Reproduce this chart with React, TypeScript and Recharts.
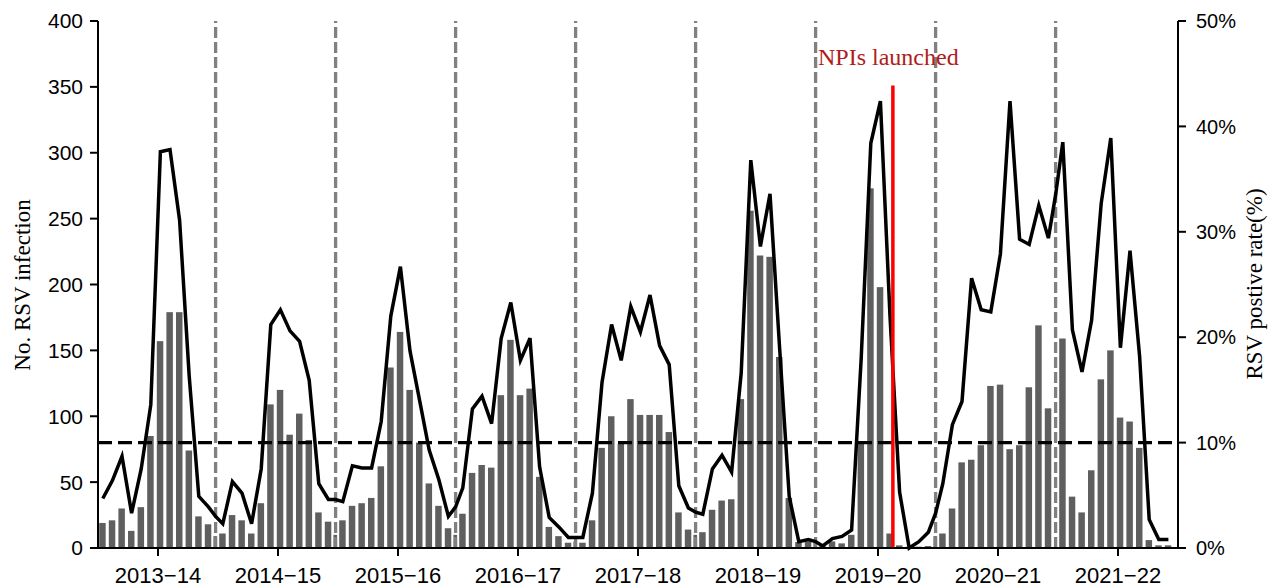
import {
  ComposedChart,
  Bar,
  Line,
  XAxis,
  YAxis,
  ReferenceLine,
} from "recharts";

// seasons run July..June; each season also carries one short "boundary" bar
const SEASONS = [
  "2013−14",
  "2014−15",
  "2015−16",
  "2016−17",
  "2017−18",
  "2018−19",
  "2019−20",
  "2020−21",
  "2021−22",
];

// No. RSV infection, 12 months per season
const MONTHLY_COUNTS = [
  19, 21, 30, 13, 31, 85, 157, 179, 179, 74, 24, 18,
  11, 25, 21, 11, 34, 109, 120, 86, 102, 82, 27, 20,
  21, 32, 34, 38, 62, 137, 164, 120, 80, 49, 32, 15,
  26, 57, 63, 61, 116, 158, 116, 121, 54, 16, 9, 4,
  4, 21, 76, 100, 79, 113, 101, 101, 101, 88, 27, 14,
  12, 29, 36, 37, 113, 256, 222, 221, 145, 38, 4.5, 5,
  2, 5, 3.5, 10, 80, 273, 198, 11, 2, 1, 1, 1.5,
  11, 30, 65, 67, 78, 123, 124, 75, 78, 122, 169, 106,
  159, 39, 27, 59, 128, 150, 99, 96, 76, 6, 2, 2,
];

// short bars sitting on the season boundaries
const BOUNDARY_COUNTS = [9, 10, 10, 5, 10, 5, 9, 0];

// RSV positive rate (%)
const MONTHLY_RATES = [
  4.7, 6.4, 8.7, 3.3, 7.5, 13.6, 37.6, 37.8, 31.1, 16.3, 4.9, 3.9,
  2.3, 6.3, 5.2, 2.3, 7.5, 21.2, 22.6, 20.6, 19.6, 15.9, 6.1, 4.6,
  4.4, 7.8, 7.6, 7.6, 12, 22, 26.7, 18.7, 14, 9.3, 6.5, 3.0,
  5.7, 13.2, 14.4, 11.8, 19.9, 23.3, 17.8, 19.9, 7.7, 2.9, 2.0, 1.0,
  1.0, 5.2, 15.7, 21.2, 17.8, 22.9, 20.5, 24, 19.2, 17.4, 5.9, 3.8,
  3.2, 7.5, 8.8, 7.2, 16.6, 36.8, 28.6, 33.6, 19, 4.9, 0.6, 0.8,
  0.2, 0.9, 1.1, 1.7, 18, 38.4, 42.4, 22, 5.3, 0, 0.6, 1.5,
  6.1, 11.7, 13.9, 25.6, 22.6, 22.4, 27.9, 42.4, 29.3, 28.8, 32.5, 29.4,
  38.5, 20.7, 16.7, 21.6, 32.7, 38.9, 19.0, 28.2, 18.2, 2.7, 0.8, 0.8,
];

const BOUNDARY_RATES = [3.0, 4.6, 3.9, 1.0, 3.4, 0.6, 3.3, 33.5];

const COUNT_TICKS = [0, 50, 100, 150, 200, 250, 300, 350, 400];
const RATE_TICKS = [0, 10, 20, 30, 40, 50];

const THRESHOLD = 80; // 10% positive rate on the left scale
const NPI_X = 82.8; // Feb 2020
const NPI_TOP = 351;

const SPAN = 12.5; // x units per season
const seasonTicks = SEASONS.map((_, i) => i * SPAN + 6.25);
const boundaries = BOUNDARY_COUNTS.map((_, i) => i * SPAN + 12.25);

type Row = { x: number; count: number; rate: number; narrow: boolean };

const data: Row[] = [];
SEASONS.forEach((_, s) => {
  for (let m = 0; m < 12; m++) {
    data.push({
      x: s * SPAN + m + 0.5,
      count: MONTHLY_COUNTS[s * 12 + m],
      rate: MONTHLY_RATES[s * 12 + m],
      narrow: false,
    });
  }
  if (s < BOUNDARY_COUNTS.length) {
    data.push({
      x: s * SPAN + 12.25,
      count: BOUNDARY_COUNTS[s],
      rate: BOUNDARY_RATES[s],
      narrow: true,
    });
  }
});

const sans = "'Liberation Sans', Arial, sans-serif";
const serif = "'Liberation Serif', 'Times New Roman', serif";

const BarShape = (props: any) => {
  const { x, y, width, height, payload } = props;
  if (!height || height <= 0) return null;
  const w = payload && payload.narrow ? 3.6 : width;
  return <rect x={x + (width - w) / 2} y={y} width={w} height={height} fill="#5f5f5f" />;
};

export default function App() {
  return (
    <div style={{ position: "absolute", left: 0, top: 0, width: 1272, height: 587, background: "#fff" }}>
      <ComposedChart
        width={1272}
        height={587}
        data={data}
        margin={{ top: 21, right: 0, bottom: 0, left: 0 }}
      >
        <XAxis
          dataKey="x"
          type="number"
          domain={[0, SEASONS.length * SPAN]}
          ticks={seasonTicks}
          tickFormatter={(v: number) => SEASONS[Math.round((v - 6.25) / SPAN)]}
          height={39}
          tickSize={8}
          tickMargin={11}
          axisLine={{ stroke: "#000", strokeWidth: 2 }}
          tickLine={{ stroke: "#000", strokeWidth: 2 }}
          tick={{ fill: "#000", fontSize: 22, fontFamily: sans }}
          interval={0}
        />
        <YAxis
          yAxisId="left"
          domain={[0, 400]}
          ticks={COUNT_TICKS}
          width={98}
          tickSize={8}
          tickMargin={7}
          axisLine={{ stroke: "#000", strokeWidth: 2 }}
          tickLine={{ stroke: "#000", strokeWidth: 2 }}
          tick={{ fill: "#000", fontSize: 21, fontFamily: sans }}
          interval={0}
        />
        <YAxis
          yAxisId="right"
          orientation="right"
          domain={[0, 50]}
          ticks={RATE_TICKS}
          tickFormatter={(v: number) => `${v}%`}
          width={94}
          tickSize={8}
          tickMargin={10}
          axisLine={{ stroke: "#000", strokeWidth: 2 }}
          tickLine={{ stroke: "#000", strokeWidth: 2 }}
          tick={{ fill: "#000", fontSize: 20, fontFamily: sans }}
          interval={0}
        />
        <Bar
          yAxisId="left"
          dataKey="count"
          barSize={7.7}
          fill="#5f5f5f"
          shape={BarShape}
          isAnimationActive={false}
        />
        {boundaries.map((bx) => (
          <ReferenceLine
            key={bx}
            yAxisId="left"
            x={bx}
            stroke="#808080"
            strokeWidth={3.3}
            strokeDasharray="11 4"
          />
        ))}
        <ReferenceLine
          yAxisId="left"
          y={THRESHOLD}
          stroke="#000"
          strokeWidth={3.3}
          strokeDasharray="14 6"
        />
        <Line
          yAxisId="right"
          dataKey="rate"
          type="linear"
          stroke="#000"
          strokeWidth={3.5}
          dot={false}
          activeDot={false}
          isAnimationActive={false}
        />
        <ReferenceLine
          yAxisId="left"
          segment={[
            { x: NPI_X, y: 0 },
            { x: NPI_X, y: NPI_TOP },
          ]}
          stroke="#ff0000"
          strokeWidth={3.5}
        />
      </ComposedChart>
      <svg
        width={1272}
        height={587}
        style={{ position: "absolute", left: 0, top: 0, pointerEvents: "none" }}
      >
        <text
          x={22}
          y={285}
          transform="rotate(-90 22 285)"
          textAnchor="middle"
          dominantBaseline="central"
          fontFamily={serif}
          fontSize={23}
          fill="#000"
        >
          No. RSV infection
        </text>
        <text
          x={1254}
          y={284}
          transform="rotate(-90 1254 284)"
          textAnchor="middle"
          dominantBaseline="central"
          fontFamily={serif}
          fontSize={23}
          fill="#000"
        >
          RSV postive rate(%)
        </text>
        <text x={818} y={65} fontFamily={serif} fontSize={24} fill="#b01c1c">
          NPIs launched
        </text>
      </svg>
    </div>
  );
}
